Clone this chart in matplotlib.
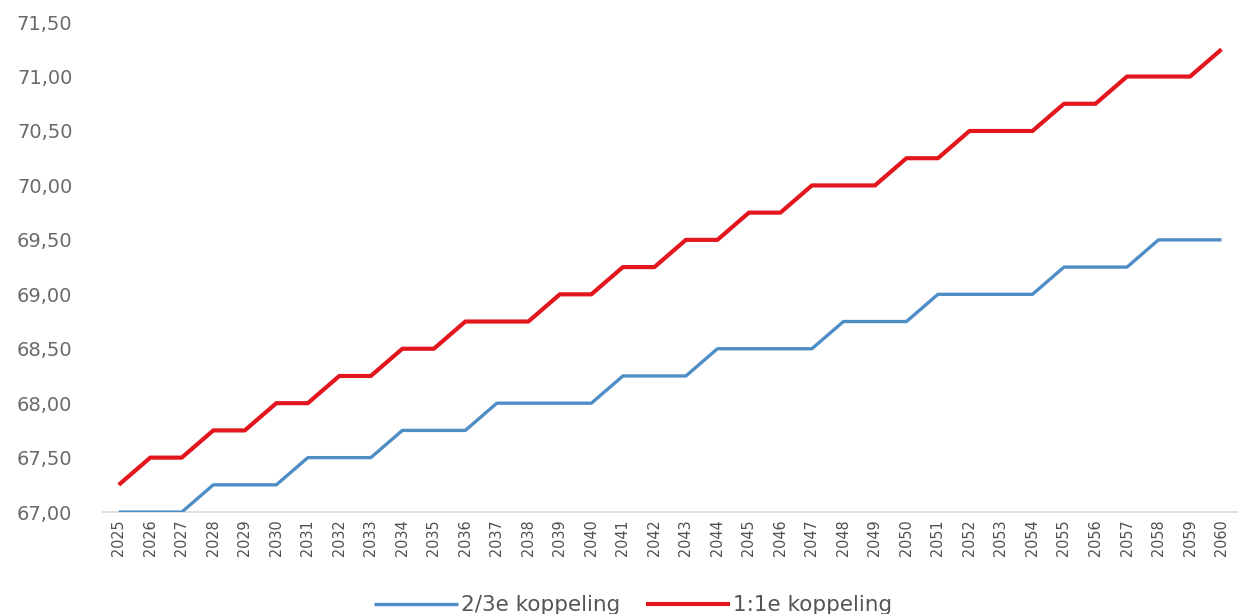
import matplotlib.pyplot as plt
from matplotlib.ticker import FuncFormatter

years = list(range(2025, 2061))

# pensioenleeftijd bij 2/3e koppeling
blue_vals = [67.00, 67.00, 67.00, 67.25, 67.25, 67.25, 67.50, 67.50, 67.50, 67.75,
             67.75, 67.75, 68.00, 68.00, 68.00, 68.00, 68.25, 68.25, 68.25, 68.50,
             68.50, 68.50, 68.50, 68.75, 68.75, 68.75, 69.00, 69.00, 69.00, 69.00,
             69.25, 69.25, 69.25, 69.50, 69.50, 69.50]

# pensioenleeftijd bij 1:1e koppeling
red_vals = [67.25, 67.50, 67.50, 67.75, 67.75, 68.00, 68.00, 68.25, 68.25, 68.50,
            68.50, 68.75, 68.75, 68.75, 69.00, 69.00, 69.25, 69.25, 69.50, 69.50,
            69.75, 69.75, 70.00, 70.00, 70.00, 70.25, 70.25, 70.50, 70.50, 70.50,
            70.75, 70.75, 71.00, 71.00, 71.00, 71.25]

labels = ['2/3e koppeling', '1:1e koppeling']

fig = plt.figure(figsize=(12.41, 6.14), dpi=100)
ax = fig.add_axes([0.083, 0.166, 0.914, 0.798])

x = list(range(len(years)))
ax.plot(x, blue_vals, color='#4F8DC6', linewidth=2.4, label=labels[0], solid_capstyle='butt')
ax.plot(x, red_vals, color='#E3161E', linewidth=3.0, label=labels[1], solid_capstyle='butt')

ax.set_xlim(-0.5, len(years) - 0.5)
ax.set_ylim(67.0, 71.5)
ax.set_yticks([67.0 + 0.5 * i for i in range(10)])
ax.yaxis.set_major_formatter(FuncFormatter(lambda v, p: f'{v:.2f}'.replace('.', ',')))

ax.set_xticks(x)
ax.set_xticklabels([str(y) for y in years], rotation=90, fontstretch='condensed',
                   fontsize=11.5, color='#505050')
for t in ax.get_yticklabels():
    t.set_fontsize(14)
    t.set_color('#6a6a6a')

ax.tick_params(axis='both', length=0)
ax.tick_params(axis='y', pad=22)
ax.tick_params(axis='x', pad=5)

for s in ['top', 'right', 'left']:
    ax.spines[s].set_visible(False)
ax.spines['bottom'].set_color('#D9D9D9')
ax.spines['bottom'].set_linewidth(1.2)
ax.spines['bottom'].set_zorder(0)

fig.legend(loc='center', bbox_to_anchor=(0.51, 0.014), ncol=2, frameon=False,
           prop={'size': 15.5}, handlelength=3.9, handletextpad=0.15,
           columnspacing=1.2, labelcolor='#555555')

fig.savefig('out.png', dpi=100)
